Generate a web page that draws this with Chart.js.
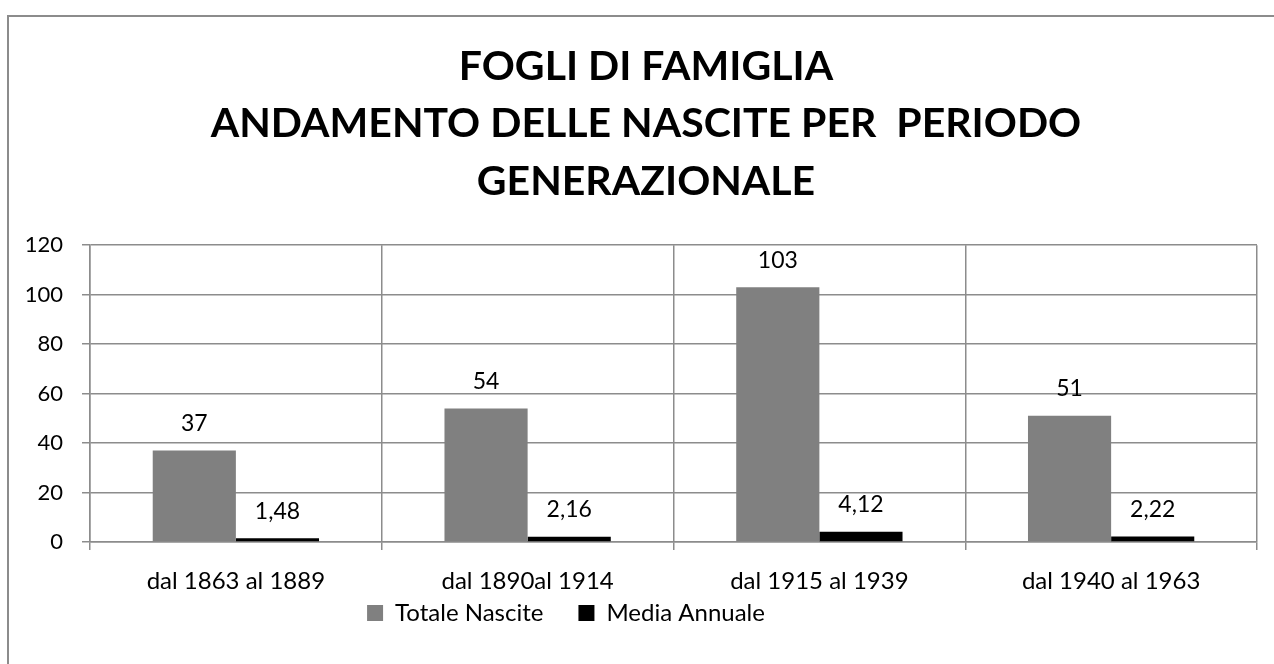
<!DOCTYPE html>
<html>
<head>
<meta charset="utf-8">
<script src="https://cdn.jsdelivr.net/npm/chart.js@4/dist/chart.umd.min.js"></script>
<style>
  body { margin: 0; background: #fff; overflow: hidden; }
  .frame {
    position: absolute; left: 7px; top: 15px;
    width: 1400px; height: 800px;
    border: 2px solid #8c8c8c;
  }
  #wrap { position: absolute; left: 0; top: 0; width: 1274px; height: 664px; }
</style>
</head>
<body>
<div class="frame"></div>
<div id="wrap"><canvas id="myChart" width="1274" height="664"></canvas></div>
<script>
// dati del grafico
const periodi = ['dal 1863 al 1889', 'dal 1890al 1914', 'dal 1915 al 1939', 'dal 1940 al 1963'];
const totaleNascite = [37, 54, 103, 51];
const mediaAnnuale = [1.48, 2.16, 4.12, 2.22];
const titolo = ['FOGLI DI FAMIGLIA', 'ANDAMENTO DELLE NASCITE PER  PERIODO', 'GENERAZIONALE'];
const yMax = 120;
const yStep = 20;

const FONT = 'Lato, Calibri, sans-serif';

// etichette sopra le barre (virgola decimale)
const valueLabels = {
    id: 'valueLabels',
    afterDatasetsDraw(chart) {
        const ctx = chart.ctx;
        ctx.save();
        ctx.font = '23px ' + FONT;
        ctx.fillStyle = '#000';
        ctx.textAlign = 'center';
        ctx.textBaseline = 'middle';
        chart.data.datasets.forEach((ds, i) => {
            chart.getDatasetMeta(i).data.forEach((bar, j) => {
                const txt = String(ds.data[j]).replace('.', ',');
                ctx.fillText(txt, bar.x, bar.y - 27);
            });
        });
        ctx.restore();
    }
};

// titolo centrato sulla cornice, legenda spostata come in Excel
const shiftBoxes = {
    id: 'shiftBoxes',
    afterLayout(chart) {
        const t = chart.titleBlock;
        const dt = 646 - (t.left + t.right) / 2;
        t.left += dt; t.right += dt;
        const l = chart.legend;
        const dl = 566 - (l.left + l.right) / 2;
        l.left += dl; l.right += dl;
        const dy = 566 - l.top;
        l.top += dy; l.bottom += dy;
    }
};

const ctx = document.getElementById('myChart').getContext('2d');
new Chart(ctx, {
    type: 'bar',
    data: {
        labels: periodi,
        datasets: [{
            label: 'Totale Nascite',
            data: totaleNascite,
            backgroundColor: '#808080',
            borderWidth: 0
        }, {
            label: 'Media Annuale',
            data: mediaAnnuale,
            backgroundColor: '#000000',
            borderWidth: 0
        }]
    },
    options: {
        responsive: false,
        animation: false,
        layout: { padding: { left: 0, right: 17, top: 0, bottom: -7 } },
        datasets: {
            bar: { categoryPercentage: 0.57, barPercentage: 1.0 }
        },
        plugins: {
            title: {
                display: true,
                text: titolo,
                color: '#000',
                font: { family: FONT, size: 41, weight: 'bold', lineHeight: 1.4 },
                padding: { top: 38, bottom: 35 }
            },
            legend: {
                position: 'bottom',
                labels: {
                    color: '#000',
                    font: { family: FONT, size: 24 },
                    boxWidth: 16,
                    boxHeight: 16,
                    padding: 35
                }
            },
            tooltip: { enabled: false }
        },
        scales: {
            x: {
                grid: { color: '#8c8c8c', lineWidth: 1.5, tickLength: 8, offset: true },
                border: { color: '#8c8c8c', width: 1.5 },
                ticks: { color: '#000', font: { family: FONT, size: 24 }, padding: 17, maxRotation: 0 },
                afterFit(scale) { scale.height = 60; }
            },
            y: {
                min: 0,
                max: yMax,
                ticks: { stepSize: yStep, color: '#000', font: { family: FONT, size: 22 }, padding: 19 },
                grid: { color: '#8c8c8c', lineWidth: 1.5, tickLength: 8 },
                border: { color: '#8c8c8c', width: 1.5 },
                afterFit(scale) { scale.width = 90; }
            }
        }
    },
    plugins: [valueLabels, shiftBoxes]
});
</script>
</body>
</html>
